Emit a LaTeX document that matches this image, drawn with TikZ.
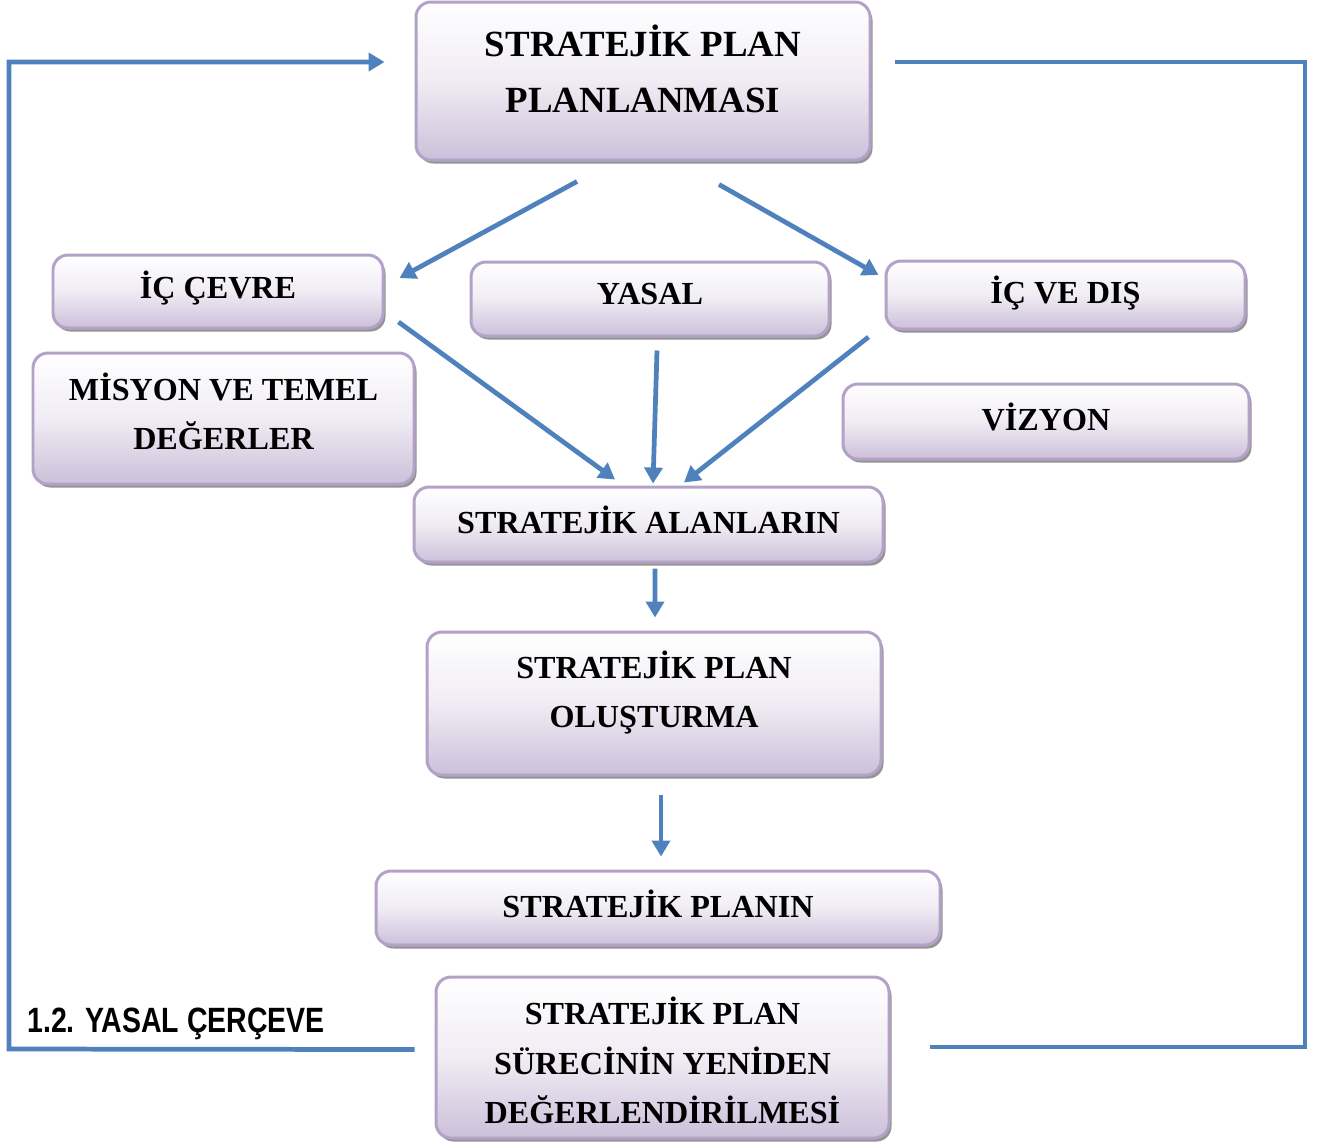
\documentclass[tikz,border=0pt]{standalone}
\usepackage{fontspec}
\setmainfont{Liberation Serif}
\newfontfamily\labelfont{Liberation Sans}
\usetikzlibrary{arrows.meta,shadows,calc}
\definecolor{lineblue}{HTML}{4F81BD}
\definecolor{boxborder}{HTML}{B3A2C7}
\definecolor{boxbottom}{HTML}{CCC0DA}
\tikzset{
  box/.style={draw=boxborder, line width=1.7pt, rounded corners=0.3cm,
    top color=white, bottom color=boxbottom, middle color=boxbottom!30,
    drop shadow={shadow xshift=0.05cm, shadow yshift=-0.07cm, fill=black!42, opacity=1},
    inner sep=0pt},
  boxtext/.style={font=\bfseries\fontsize{18.3}{28}\selectfont, align=center, inner sep=0pt},
  titletext/.style={font=\bfseries\fontsize{21}{32}\selectfont, align=center, inner sep=0pt},
  conn/.style={draw=lineblue, line width=2.7pt, -{Triangle[length=0.32cm,width=0.36cm]}},
  loopline/.style={draw=lineblue, line width=2.7pt, line join=miter},
}
\newcommand\pbox[8]{%
  \node[box, minimum width={(#4-#2)*0.02cm}, minimum height={(#5-#3)*0.02cm}] (#1) at ({(#2+#4)/2},{(#3+#5)/2}) {};
  \node[#8] (#1-t) at ($(#1.center)+(0,#7)$) {#6};
}
\begin{document}
\begin{tikzpicture}[x=0.02cm,y=-0.02cm]
\useasboundingbox (0,0) rectangle (1317,1144);
\pbox{top}{416}{2}{870}{160}{STRATEJİK PLAN\\PLANLANMASI}{-12}{titletext}
\pbox{icevre}{53}{255}{383}{328}{İÇ ÇEVRE}{-3.5}{boxtext}
\pbox{yasal}{471}{262}{829}{336}{YASAL}{-5}{boxtext}
\pbox{icdis}{886}{261}{1245}{329}{İÇ VE DIŞ}{-2}{boxtext}
\pbox{misyon}{33}{353}{414}{484}{MİSYON VE TEMEL\\DEĞERLER}{-7}{boxtext}
\pbox{vizyon}{843}{384}{1249}{459}{VİZYON}{-4.5}{boxtext}
\pbox{alanlar}{414}{487}{883}{562}{STRATEJİK ALANLARIN}{-4.5}{boxtext}
\pbox{olustur}{427}{632}{881}{775}{STRATEJİK PLAN\\OLUŞTURMA}{-11}{boxtext}
\pbox{planin}{376}{871}{940}{945}{STRATEJİK PLANIN}{-4}{boxtext}
\pbox{bottom}{436}{977}{889}{1138}{STRATEJİK PLAN\\SÜRECİNİN YENİDEN\\DEĞERLENDİRİLMESİ}{3}{boxtext}

\draw[conn] ($(top.south)+(-66,20)$) -- ($(icevre.east)+(15,-13.5)$);
\draw[conn] ($(top.south)+(76,23)$) -- ($(icdis.west)+(-6,-20)$);
\draw[conn] ($(icevre.east)+(14,30.5)$) -- ($(alanlar.north)+(-33.5,-6)$);
\draw[conn] ($(yasal.south)+(7,13)$) -- ($(alanlar.north)+(4.5,-2)$);
\draw[conn] ($(icdis.west)+(-16,42)$) -- ($(alanlar.north)+(35.5,-3)$);
\draw[conn] ($(alanlar.south)+(6.5,5)$) -- ($(olustur.north)+(1,-13)$);
\draw[conn] ($(olustur.south)+(7,18)$) -- ($(planin.north)+(3,-13)$);

\draw[loopline, -{Triangle[length=0.32cm,width=0.36cm]}] ($(bottom.west)+(-20,-8)$) -- (9,1049) |- ($(top.west)+(-30,-19)$);
\draw[loopline] ($(top.east)+(23,-19)$) -| (1305,1047) -- ($(bottom.east)+(39,-10.5)$);

\node[font=\labelfont\bfseries\fontsize{20}{22}\selectfont, xscale=0.81, anchor=west, inner sep=0pt] (lbl) at (27,1024) {1.2. YASAL ÇERÇEVE};
\end{tikzpicture}
\end{document}
